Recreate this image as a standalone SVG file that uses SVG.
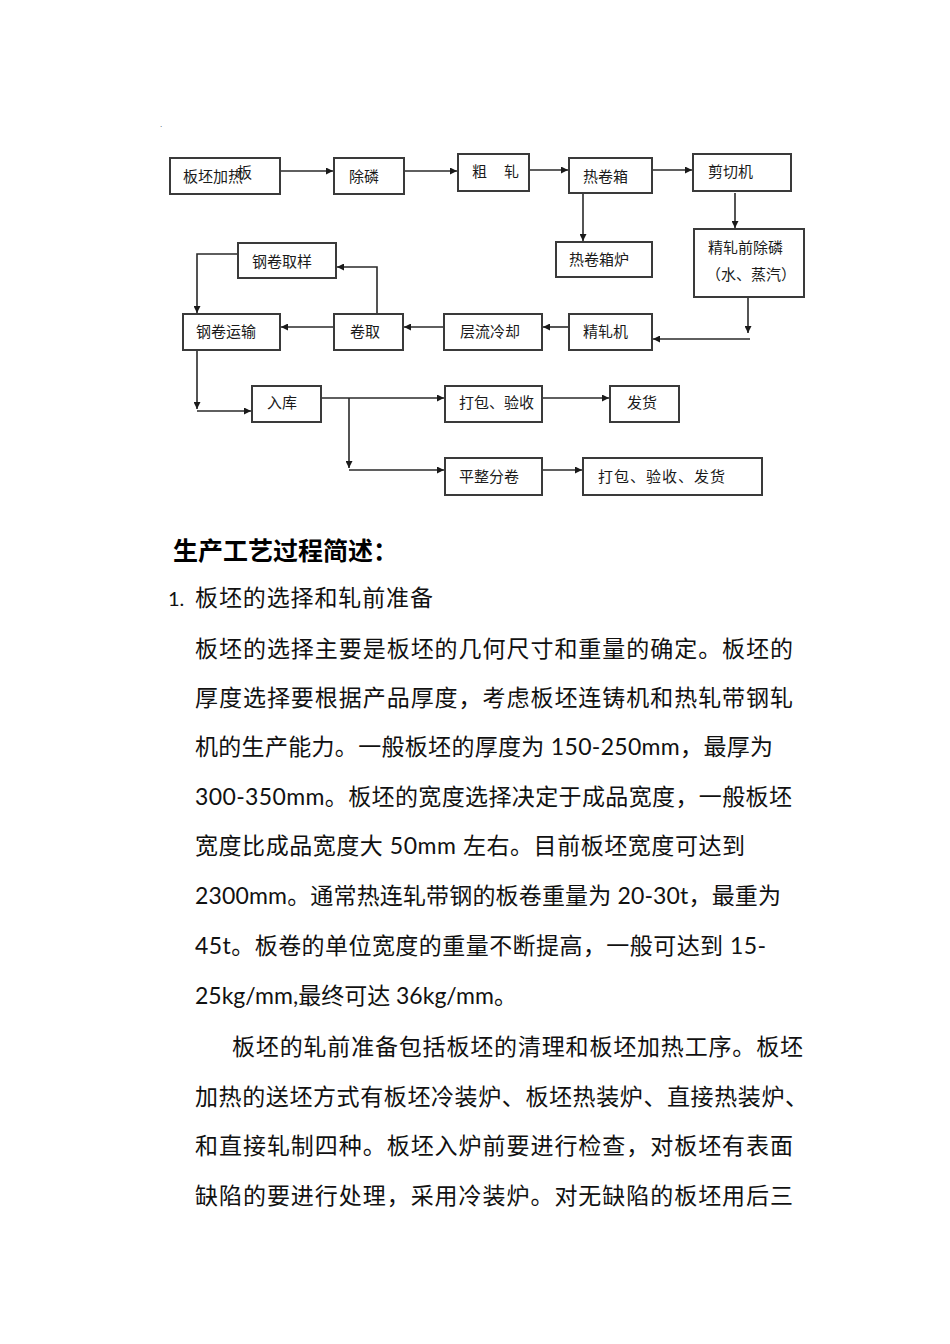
<svg xmlns="http://www.w3.org/2000/svg" width="950" height="1344" viewBox="0 0 950 1344">
<style>
.box{fill:#fff;stroke:#3a3a3a;stroke-width:2}
.lbl{font-family:"Noto Sans CJK SC","Noto Sans",sans-serif;font-size:15px;fill:#1a1a1a}
.con{fill:none;stroke:#2a2a2a;stroke-width:1.6}
.body{font-family:Lato,"Noto Sans CJK SC",sans-serif;font-size:23px;fill:#111}
.title{font-family:"Noto Sans CJK SC",sans-serif;font-size:25px;font-weight:bold;fill:#000}
</style>
<defs>
<marker id="ah" viewBox="0 0 8 8" refX="8" refY="4" markerWidth="7" markerHeight="7" markerUnits="userSpaceOnUse" orient="auto">
<path d="M0,0 L8,4 L0,8 z" fill="#1a1a1a"/>
</marker>
</defs>
<rect width="950" height="1344" fill="#fff"/>
<text x="160" y="127" style="font-family:'Liberation Sans',sans-serif;font-size:8px;fill:#334">.</text>

<g id="connectors">
<line class="con" x1="280" y1="171" x2="333" y2="171" marker-end="url(#ah)"/>
<line class="con" x1="404" y1="171" x2="457" y2="171" marker-end="url(#ah)"/>
<line class="con" x1="529" y1="170" x2="568" y2="170" marker-end="url(#ah)"/>
<line class="con" x1="652" y1="170" x2="692" y2="170" marker-end="url(#ah)"/>
<line class="con" x1="583" y1="193" x2="583" y2="241" marker-end="url(#ah)"/>
<line class="con" x1="735" y1="193" x2="735" y2="228" marker-end="url(#ah)"/>
<line class="con" x1="748" y1="297" x2="748" y2="333" marker-end="url(#ah)"/>
<line class="con" x1="750" y1="339" x2="653" y2="339" marker-end="url(#ah)"/>
<line class="con" x1="569" y1="327" x2="543" y2="327" marker-end="url(#ah)"/>
<line class="con" x1="444" y1="327" x2="404" y2="327" marker-end="url(#ah)"/>
<line class="con" x1="334" y1="327" x2="281" y2="327" marker-end="url(#ah)"/>
<polyline class="con" points="377,314 377,267 337,267" marker-end="url(#ah)"/>
<polyline class="con" points="238,254 197,254 197,313" marker-end="url(#ah)"/>
<line class="con" x1="197" y1="350" x2="197" y2="409" marker-end="url(#ah)"/>
<line class="con" x1="197" y1="411" x2="251" y2="411" marker-end="url(#ah)"/>
<line class="con" x1="321" y1="398" x2="444" y2="398" marker-end="url(#ah)"/>
<line class="con" x1="349" y1="398" x2="349" y2="468" marker-end="url(#ah)"/>
<line class="con" x1="349" y1="470" x2="444" y2="470" marker-end="url(#ah)"/>
<line class="con" x1="542" y1="398" x2="609" y2="398" marker-end="url(#ah)"/>
<line class="con" x1="542" y1="470" x2="582" y2="470" marker-end="url(#ah)"/>
</g>

<g id="n1"><rect class="box" x="170" y="158" width="110" height="36"/><text class="lbl" x="183" y="182">板坯加热</text><text class="lbl" x="237" y="178">板</text></g>
<g id="n2"><rect class="box" x="334" y="158" width="70" height="36"/><text class="lbl" x="349" y="182">除磷</text></g>
<g id="n3"><rect class="box" x="458" y="154" width="71" height="37"/><text class="lbl" y="177"><tspan x="472">粗</tspan><tspan x="504">轧</tspan></text></g>
<g id="n4"><rect class="box" x="569" y="158" width="83" height="35"/><text class="lbl" x="583" y="182">热卷箱</text></g>
<g id="n5"><rect class="box" x="693" y="154" width="98" height="37"/><text class="lbl" x="708" y="177">剪切机</text></g>
<g id="n6"><rect class="box" x="556" y="242" width="96" height="35"/><text class="lbl" x="569" y="265">热卷箱炉</text></g>
<g id="n7"><rect class="box" x="694" y="229" width="110" height="68"/><text class="lbl" x="708" y="253">精轧前除磷</text><text class="lbl" x="706" y="280">（水、蒸汽）</text></g>
<g id="n8"><rect class="box" x="238" y="243" width="98" height="35"/><text class="lbl" x="252" y="267">钢卷取样</text></g>
<g id="n9"><rect class="box" x="183" y="314" width="97" height="36"/><text class="lbl" x="196" y="337">钢卷运输</text></g>
<g id="n10"><rect class="box" x="334" y="314" width="69" height="36"/><text class="lbl" x="350" y="337">卷取</text></g>
<g id="n11"><rect class="box" x="444" y="314" width="98" height="36"/><text class="lbl" x="460" y="337">层流冷却</text></g>
<g id="n12"><rect class="box" x="569" y="314" width="83" height="36"/><text class="lbl" x="583" y="337">精轧机</text></g>
<g id="n13"><rect class="box" x="252" y="386" width="69" height="36"/><text class="lbl" x="267" y="408">入库</text></g>
<g id="n14"><rect class="box" x="445" y="386" width="97" height="36"/><text class="lbl" x="459" y="408">打包、验收</text></g>
<g id="n15"><rect class="box" x="610" y="386" width="69" height="36"/><text class="lbl" x="627" y="408">发货</text></g>
<g id="n16"><rect class="box" x="445" y="458" width="97" height="37"/><text class="lbl" x="459" y="482">平整分卷</text></g>
<g id="n17"><rect class="box" x="583" y="458" width="179" height="37"/><text class="lbl" x="598" y="482" textLength="127" lengthAdjust="spacing">打包、验收、发货</text></g>

<g id="text">
<text class="title" x="173" y="560">生产工艺过程简述：</text>
<text class="body" x="168" y="606" style="font-size:20px">1.</text>
<text class="body" x="195" y="606" textLength="238" lengthAdjust="spacing">板坯的选择和轧前准备</text>
<text class="body" x="195" y="657" textLength="598" lengthAdjust="spacing">板坯的选择主要是板坯的几何尺寸和重量的确定。板坯的</text>
<text class="body" x="195" y="706" textLength="598" lengthAdjust="spacing">厚度选择要根据产品厚度，考虑板坯连铸机和热轧带钢轧</text>
<text class="body" x="195" y="755" textLength="578" lengthAdjust="spacing">机的生产能力。一般板坯的厚度为 150-250mm，最厚为</text>
<text class="body" x="195" y="805" textLength="597" lengthAdjust="spacing">300-350mm。板坯的宽度选择决定于成品宽度，一般板坯</text>
<text class="body" x="195" y="854" textLength="550" lengthAdjust="spacing">宽度比成品宽度大 50mm 左右。目前板坯宽度可达到</text>
<text class="body" x="195" y="904" textLength="586" lengthAdjust="spacing">2300mm。通常热连轧带钢的板卷重量为 20-30t，最重为</text>
<text class="body" x="195" y="954" textLength="571" lengthAdjust="spacing">45t。板卷的单位宽度的重量不断提高，一般可达到 15-</text>
<text class="body" x="195" y="1004">25kg/mm,最终可达 36kg/mm。</text>
<text class="body" x="232" y="1055" textLength="571" lengthAdjust="spacing">板坯的轧前准备包括板坯的清理和板坯加热工序。板坯</text>
<text class="body" x="195" y="1105" textLength="613" lengthAdjust="spacing">加热的送坯方式有板坯冷装炉、板坯热装炉、直接热装炉、</text>
<text class="body" x="195" y="1154" textLength="598" lengthAdjust="spacing">和直接轧制四种。板坯入炉前要进行检查，对板坯有表面</text>
<text class="body" x="195" y="1204" textLength="598" lengthAdjust="spacing">缺陷的要进行处理，采用冷装炉。对无缺陷的板坯用后三</text>
</g>
</svg>
